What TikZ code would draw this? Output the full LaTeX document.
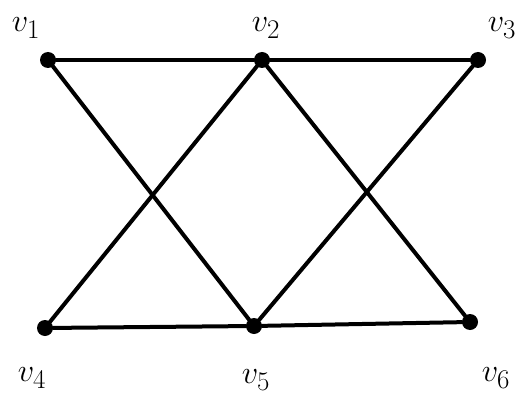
\documentclass[tikz,border=0pt]{standalone}
\begin{document}
\begin{tikzpicture}[x=1pt,y=-1pt,
  vert/.style={circle,fill=black,inner sep=0pt,minimum size=16pt},
  edge/.style={line width=4pt,line cap=round},
  lab/.style={font=\Huge,scale=1.3}]
\useasboundingbox (0,0) rectangle (521,414);
\node[vert] (v1) at (48,60) {};
\node[vert] (v2) at (262,60) {};
\node[vert] (v3) at (478,60) {};
\node[vert] (v4) at (45,328) {};
\node[vert] (v5) at (254,326) {};
\node[vert] (v6) at (470,322) {};
\draw[edge] (v1) -- (v2);
\draw[edge] (v2) -- (v3);
\draw[edge] (v1) -- (v5);
\draw[edge] (v2) -- (v4);
\draw[edge] (v2) -- (v6);
\draw[edge] (v3) -- (v5);
\draw[edge] (v4) -- (v5);
\draw[edge] (v5) -- (v6);
\node[lab] (l1) at (26,28) {$v_1$};
\node[lab] (l2) at (266,28) {$v_2$};
\node[lab] (l3) at (502,28) {$v_3$};
\node[lab] (l4) at (32,378) {$v_4$};
\node[lab] (l5) at (256,380) {$v_5$};
\node[lab] (l6) at (496,378) {$v_6$};
\end{tikzpicture}
\end{document}
